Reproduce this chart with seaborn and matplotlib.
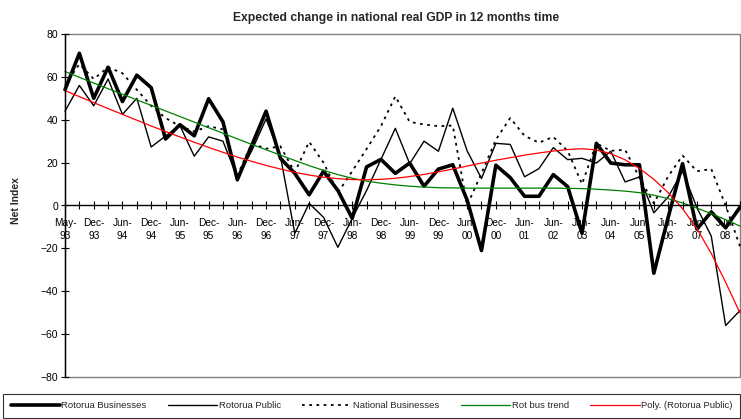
import numpy as np
import pandas as pd
import matplotlib
matplotlib.use('Agg')
import matplotlib.pyplot as plt
import seaborn as sns
from matplotlib.patches import Rectangle

# survey periods (quarterly to mid 2001, then half-yearly)
periods = ['May-93', 'Sep-93', 'Dec-93', 'Mar-94', 'Jun-94', 'Sep-94', 'Dec-94', 'Mar-95',
           'Jun-95', 'Sep-95', 'Dec-95', 'Mar-96', 'Jun-96', 'Sep-96', 'Dec-96', 'Mar-97',
           'Jun-97', 'Sep-97', 'Dec-97', 'Mar-98', 'Jun-98', 'Sep-98', 'Dec-98', 'Mar-99',
           'Jun-99', 'Sep-99', 'Dec-99', 'Mar-00', 'Jun-00', 'Sep-00', 'Dec-00', 'Mar-01',
           'Jun-01', 'Dec-01', 'Jun-02', 'Dec-02', 'Jun-03', 'Dec-03', 'Jun-04', 'Dec-04',
           'Jun-05', 'Dec-05', 'Jun-06', 'Dec-06', 'Jun-07', 'Dec-07', 'Jun-08', 'Dec-08']

rot_bus = [54, 71, 50, 64.5, 48.5, 60.8, 55, 31, 37.7, 32.5, 49.8, 39, 12, 28, 44, 22,
           15, 5, 16, 7, -6, 18, 21.5, 15, 19.8, 9, 17, 19, 2.5, -21, 18.8, 13,
           4.3, 4.3, 14.4, 8.8, -13, 29, 19.8, 19, 19, -31.6, -5.5, 19.5, -11, -3, -10.4, -0.8]

rot_pub = [44, 56, 46.5, 59, 42.5, 50, 27.3, 32.4, 37.3, 23, 32, 30, 13, 25.5, 40.4, 23,
           -13, 1, -5.5, -19.5, -6, 7, 21.5, 36, 19.5, 30, 25.3, 45.4, 25.5, 12.6, 29, 28.5,
           13.4, 17.2, 27, 21.4, 22, 19.8, 25.3, 11, 13.3, -3.4, 4, 16, -1, -14.3, -56, -49]

nat_bus = [56, 66, 59, 64.5, 61.7, 54, 46.5, 40.8, 37, 34.5, 37, 35.5, 14, 29, 26.5, 27.6,
           15.5, 29.7, 20, 6, 16, 26.4, 37, 50.9, 39, 37.8, 37, 37.3, 0, 15, 30.7, 40.8,
           32.5, 29.3, 32, 25.5, 10, 29, 25.5, 26, 13, 1, 13.6, 23.3, 16, 17, 0, -19]

rot_bus_trend = [62.5, 59.8, 57.1, 54.5, 51.9, 49.3, 46.7, 44.1, 41.5, 38.9, 36.3, 33.7,
                 31.1, 28.5, 26.0, 23.5, 21.0, 18.6, 16.4, 14.4, 12.7, 11.4, 10.4, 9.6,
                 9.0, 8.6, 8.3, 8.2, 8.1, 8.1, 8.1, 8.1, 8.1, 8.1, 8.1, 8.0,
                 7.9, 7.6, 7.2, 6.7, 6.0, 4.8, 3.2, 1.2, -1.2, -3.8, -6.6, -9.6]

poly_pub = [53.6, 50.8, 48.0, 45.2, 42.5, 39.8, 37.1, 34.5, 32.0, 29.5, 27.1, 24.8,
            22.6, 20.6, 18.7, 17.0, 15.5, 14.2, 13.2, 12.5, 12.1, 12.0, 12.2, 12.7,
            13.5, 14.5, 15.7, 17.0, 18.4, 19.8, 21.1, 22.3, 23.5, 24.5, 25.4, 26.1,
            26.5, 25.9, 24.2, 21.3, 17.3, 12.2, 6.0, -1.5, -10.8, -22.4, -35.8, -50.2]

series = [
    ('Rotorua Businesses', rot_bus, dict(color='black', linewidth=2.6)),
    ('Rotorua Public', rot_pub, dict(color='black', linewidth=1.0)),
    ('National Businesses', nat_bus, dict(color='black', linewidth=1.3, linestyle=(0, (1.5, 2.5)))),
    ('Rot bus trend', rot_bus_trend, dict(color='#008000', linewidth=0.9)),
    ('Poly. (Rotorua Public)', poly_pub, dict(color='#ff0000', linewidth=0.9)),
]

df = pd.DataFrame({'idx': np.arange(len(periods)), 'period': periods})
for name, vals, _ in series:
    df[name] = vals

sns.set_style('white')
plt.rcParams['font.family'] = ['Liberation Sans', 'DejaVu Sans']

W, H = 741, 419
fig = plt.figure(figsize=(W / 100, H / 100), dpi=100)
ax = fig.add_axes([65 / W, 1 - 377 / H, 675 / W, 343 / H])

for name, vals, style in series:
    sns.lineplot(data=df, x='idx', y=name, ax=ax, label=name, clip_on=False, **style)
handles = ax.get_lines()
ax.get_legend().remove()

ax.set_xlim(0, len(periods) - 1)
ax.set_ylim(-80, 80)
ax.set_xlabel('')
ax.set_ylabel('')

# plot area frame
ax.add_patch(Rectangle((0, 0), 1, 1, transform=ax.transAxes, fill=False,
                       edgecolor='#808080', linewidth=1.0, zorder=0.4, clip_on=False))
ax.spines['top'].set_visible(False)
ax.spines['right'].set_visible(False)
ax.spines['bottom'].set_position(('data', 0))
for s in ('bottom', 'left'):
    ax.spines[s].set_color('black')
    ax.spines[s].set_linewidth(1.0)

xlabels = [p.replace('-', '-\n') if i % 2 == 0 else '' for i, p in enumerate(periods)]
ax.set_xticks(df['idx'])
ax.set_xticklabels(xlabels, linespacing=1.4)
ax.set_yticks(range(-80, 81, 20))
ax.tick_params(axis='x', bottom=True, direction='inout', length=6, width=0.8,
               labelsize=7.3, pad=6, colors='black')
ax.tick_params(axis='y', left=True, direction='inout', length=6, width=0.8,
               labelsize=7.5, pad=2, colors='black')

fig.text(396 / W, 1 - 18 / H, 'Expected change in national real GDP in 12 months time',
         ha='center', va='center', fontsize=8.7, fontweight='bold')
fig.text(16 / W, 1 - 201 / H, 'Net Index', rotation=90, ha='center', va='center',
         fontsize=7.5, fontweight='bold')

leg = fig.legend(handles, [s[0] for s in series], loc='lower left',
                 bbox_to_anchor=(3 / W, 1 / H, 737 / W, 27 / H), mode='expand', ncol=5,
                 frameon=True, fancybox=False, fontsize=6.8, handlelength=5.2,
                 handletextpad=0.15, borderaxespad=0, borderpad=0.8)
leg.get_frame().set_edgecolor('black')
leg.get_frame().set_linewidth(0.8)

fig.savefig('out.png', dpi=100)
